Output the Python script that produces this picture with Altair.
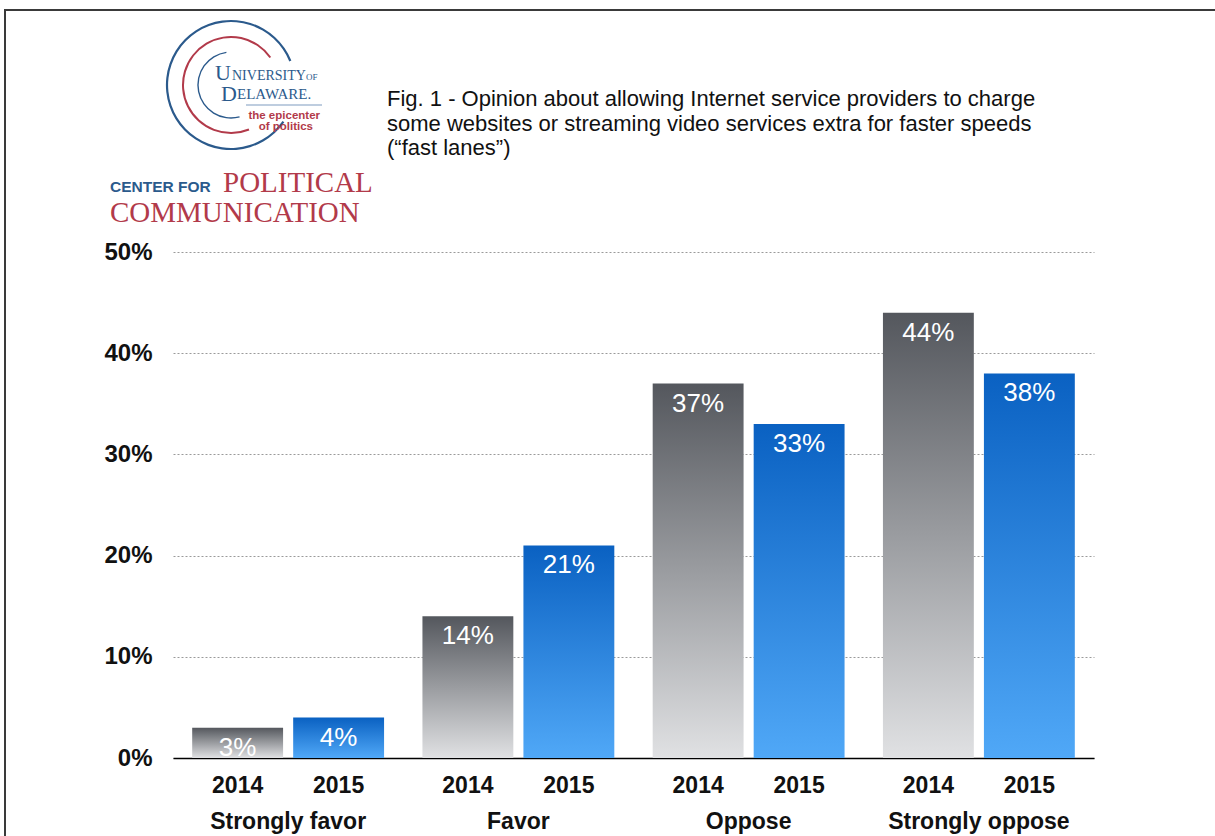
import math
import altair as alt
import pandas as pd

# ---- data ----
categories = ["Strongly favor", "Favor", "Oppose", "Strongly oppose"]
years = ["2014", "2015"]
values_2014 = [3, 14, 37, 44]
values_2015 = [4, 21, 33, 38]
y_ticks = [0, 10, 20, 30, 40, 50]
title_lines = [
    "Fig. 1 - Opinion about allowing Internet service providers to charge",
    "some websites or streaming video services extra for faster speeds",
    "(\u201cfast lanes\u201d)",
]

rows = []
for c, v1, v2 in zip(categories, values_2014, values_2015):
    rows.append({"category": c, "year": "2014", "value": v1, "label": f"{v1}%"})
    rows.append({"category": c, "year": "2015", "value": v2, "label": f"{v2}%"})
df = pd.DataFrame(rows)

# ---- layout ----
W, H = 921, 506
PL, PT = 173, 252
PR, PB = 1215 - PL - W, 836 - PT - H

gray_grad = alt.Gradient(
    gradient="linear",
    stops=[alt.GradientStop(offset=0, color="#54575d"),
           alt.GradientStop(offset=1, color="#e0e1e3")],
    x1=0, x2=0, y1=0, y2=1,
)
blue_grad = alt.Gradient(
    gradient="linear",
    stops=[alt.GradientStop(offset=0, color="#0a61c2"),
           alt.GradientStop(offset=1, color="#50a8f7")],
    x1=0, x2=0, y1=0, y2=1,
)

FONT = "Liberation Sans"

x_enc = alt.X(
    "category:N",
    sort=categories,
    scale=alt.Scale(paddingInner=0, paddingOuter=0),
    axis=alt.Axis(
        title=None, ticks=False, grid=False, labelAngle=0, labelLimit=0,
        labelFont=FONT, labelFontSize=23, labelFontWeight="bold", labelColor="#111",
        labelPadding=52, domainColor="#000", domainWidth=1.5,
    ),
)
xo_enc = alt.XOffset(
    "year:N",
    scale=alt.Scale(domain=years, paddingInner=0.1, paddingOuter=0.19),
)
y_enc = alt.Y(
    "value:Q",
    scale=alt.Scale(domain=[0, 50], nice=False),
    axis=alt.Axis(
        title=None, values=y_ticks, ticks=False, domain=False,
        labelExpr="datum.value + '%'",
        labelFont=FONT, labelFontSize=24, labelFontWeight="bold", labelColor="#111",
        labelPadding=21, gridColor="#9a9a9a", gridDash=[2, 2], gridWidth=1,
    ),
)

base = alt.Chart(df)

bars_2014 = base.transform_filter(alt.datum.year == "2014").mark_bar(
    color=gray_grad
).encode(x=x_enc, xOffset=xo_enc, y=y_enc)

bars_2015 = base.transform_filter(alt.datum.year == "2015").mark_bar(
    color=blue_grad
).encode(x=x_enc, xOffset=xo_enc, y=y_enc)

bar_labels = base.mark_text(
    font=FONT, fontSize=26, color="white", baseline="alphabetic", dy=28
).encode(x=x_enc, xOffset=xo_enc, y=y_enc, text="label:N")

year_labels = base.mark_text(
    font=FONT, fontSize=23, fontWeight="bold", color="#111", baseline="middle", dy=28
).encode(x=x_enc, xOffset=xo_enc, y=alt.datum(0), text="year:N")

one = alt.Data(values=[{}])


def deco_text(text, X, Y, size, color, font, weight="normal", align="left", baseline="alphabetic", lh=None):
    kw = dict(text=text, font=font, fontSize=size, fontWeight=weight, color=color,
              align=align, baseline=baseline)
    if lh is not None:
        kw["lineHeight"] = lh
    return alt.Chart(one).mark_text(**kw).encode(
        x=alt.value(X - PL), y=alt.value(Y - PT)
    )


def deco_arc(cx, cy, r, w, t0, t1, color):
    return alt.Chart(one).mark_arc(
        radius=r + w / 2, radius2=r - w / 2,
        theta=math.radians(t0), theta2=math.radians(t1), color=color,
    ).encode(x=alt.value(cx - PL), y=alt.value(cy - PT))


UDB = "#2b5a8c"
UDR = "#b23a4a"

title = deco_text(title_lines, 387, 106, 22, "#111", FONT, lh=24.5)

logo = [
    deco_arc(231, 85, 64, 2.2, 125, 428, UDB),
    deco_arc(231, 85, 48, 2.0, 158, 415, UDR),
    deco_arc(231, 85, 33, 1.4, 165, 352, UDB),
    deco_text("U", 215, 80, 22, UDB, "Liberation Serif"),
    deco_text("NIVERSITY", 232, 80, 14, UDB, "Liberation Serif"),
    deco_text("OF", 306, 80, 9, UDB, "Liberation Serif"),
    deco_text("D", 221, 101, 22, UDB, "Liberation Serif"),
    deco_text("ELAWARE.", 237, 99, 15, UDB, "Liberation Serif"),
    alt.Chart(one).mark_rule(color="#7f9cc0", strokeWidth=1.2).encode(
        x=alt.value(246 - PL), x2=alt.value(322 - PL), y=alt.value(105 - PT)
    ),
    deco_text("the epicenter", 320, 119, 11.5, UDR, FONT, weight="bold", align="right"),
    deco_text("of politics", 313, 130, 11.5, UDR, FONT, weight="bold", align="right"),
    deco_text("CENTER FOR", 110, 192, 15.5, UDB, FONT, weight="bold"),
    deco_text("POLITICAL", 223, 192, 29, UDR, "Liberation Serif"),
    deco_text("COMMUNICATION", 110, 222, 29, UDR, "Liberation Serif"),
]

frame = [
    alt.Chart(one).mark_rule(color="#3a3a3a", strokeWidth=2).encode(
        x=alt.value(4 - PL), x2=alt.value(1215 - PL), y=alt.value(10 - PT)
    ),
    alt.Chart(one).mark_rule(color="#3a3a3a", strokeWidth=2).encode(
        x=alt.value(5 - PL), y=alt.value(9 - PT), y2=alt.value(836 - PT)
    ),
]

chart = alt.layer(
    bars_2014, bars_2015, bar_labels, year_labels, title, *logo, *frame
).properties(
    width=W, height=H,
    padding={"left": PL, "top": PT, "right": PR, "bottom": PB},
    autosize=alt.AutoSizeParams(type="none"),
    background="white",
).configure_view(stroke=None)

chart.save("out.html", embed_options={"renderer": "svg", "actions": False})
